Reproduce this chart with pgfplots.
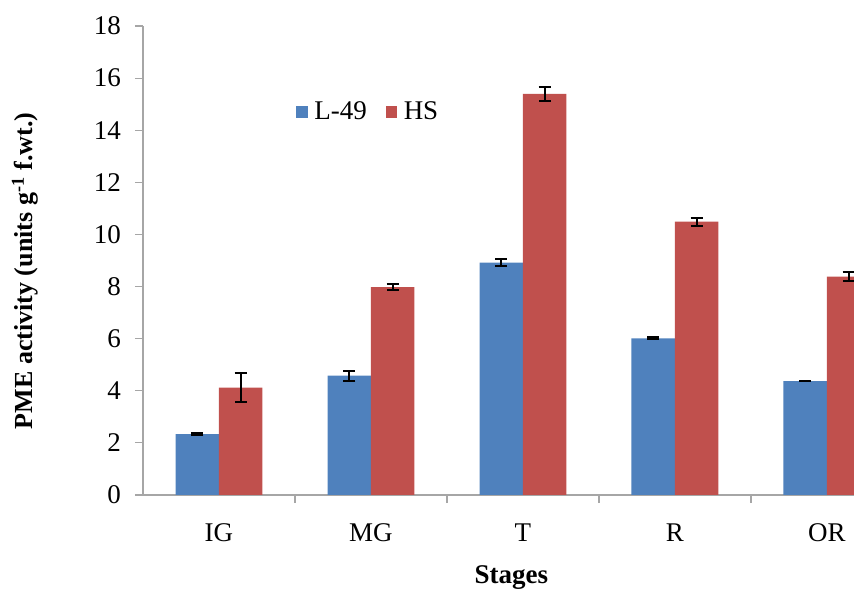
\documentclass[border=0pt]{standalone}
\usepackage{fontspec}
\setmainfont{Liberation Serif}
\usepackage{pgfplots}
\pgfplotsset{compat=1.18}
\definecolor{barblue}{HTML}{4F81BD}
\definecolor{barred}{HTML}{C0504D}
\definecolor{axgray}{HTML}{A6A6A6}
\begin{document}
\begin{tikzpicture}
\begin{axis}[
  name=ax,
  at={(0,0)}, anchor=south west,
  width=355.5pt, height=234.5pt, scale only axis,
  xmin=-0.5, xmax=4.178, ymin=0, ymax=18,
  ytick={0,2,...,18},
  xtick={0,1,2,3,4}, xticklabels={IG,MG,T,R,OR},
  minor xtick={0.5,1.5,2.5,3.5},
  major x tick style={draw=none},
  minor x tick style={axgray, line width=0.6pt},
  ytick style={axgray, line width=0.6pt},
  major tick length=4pt, minor tick length=4pt,
  tick align=outside,
  axis lines*=left,
  axis line style={axgray, line width=0.6pt},
  ticklabel style={font=\fontsize{13.5}{16}\selectfont},
  /pgf/number format/assume math mode=true,
  yticklabel style={xshift=-3.5pt},
  xticklabel style={yshift=-7pt},
  ylabel={\textbf{PME activity (units g\textsuperscript{-1} f.wt.)}},
  ylabel style={at={(axis description cs:-0.166,0.478)}, anchor=center, font=\fontsize{13}{15}\selectfont},
  xlabel={\textbf{Stages}},
  xlabel style={at={(axis description cs:0.518,0)}, anchor=base, yshift=-44pt, font=\fontsize{13.5}{16}\selectfont},
  legend style={at={(0.215,0.817)}, anchor=west, draw=none, fill=none, inner sep=0pt,
    font=\fontsize{13.5}{16}\selectfont, legend cell align=left,
    nodes={inner sep=3.3pt},
    /tikz/every even column/.append style={column sep=6pt}},
  legend columns=2,
  ybar, bar width=0.286,
  error bars/error bar style={black, line width=1pt},
  error bars/error mark options={rotate=90, mark size=3pt, black, line width=1pt},
]
\addplot[fill=barblue, draw=none, bar shift=-0.143,
  legend image code/.code={\fill[barblue] (0pt,-2.9pt) rectangle (5.8pt,2.9pt);},
  error bars/.cd, y dir=both, y explicit]
  coordinates {(0,2.34) +- (0,0.04) (1,4.58) +- (0,0.19) (2,8.92) +- (0,0.12) (3,6.01) +- (0,0.04) (4,4.37) +- (0,0)};
\addplot[fill=barred, draw=none, bar shift=0.143,
  legend image code/.code={\fill[barred] (0pt,-2.9pt) rectangle (5.8pt,2.9pt);},
  error bars/.cd, y dir=both, y explicit]
  coordinates {(0,4.12) +- (0,0.55) (1,7.98) +- (0,0.12) (2,15.39) +- (0,0.26) (3,10.49) +- (0,0.15) (4,8.38) +- (0,0.17)};
\legend{L-49,HS}
\end{axis}
\pgfresetboundingbox
\path (ax.south west) ++(-71.5pt,-48.5pt) rectangle ++(427pt,296pt);
\end{tikzpicture}
\end{document}
